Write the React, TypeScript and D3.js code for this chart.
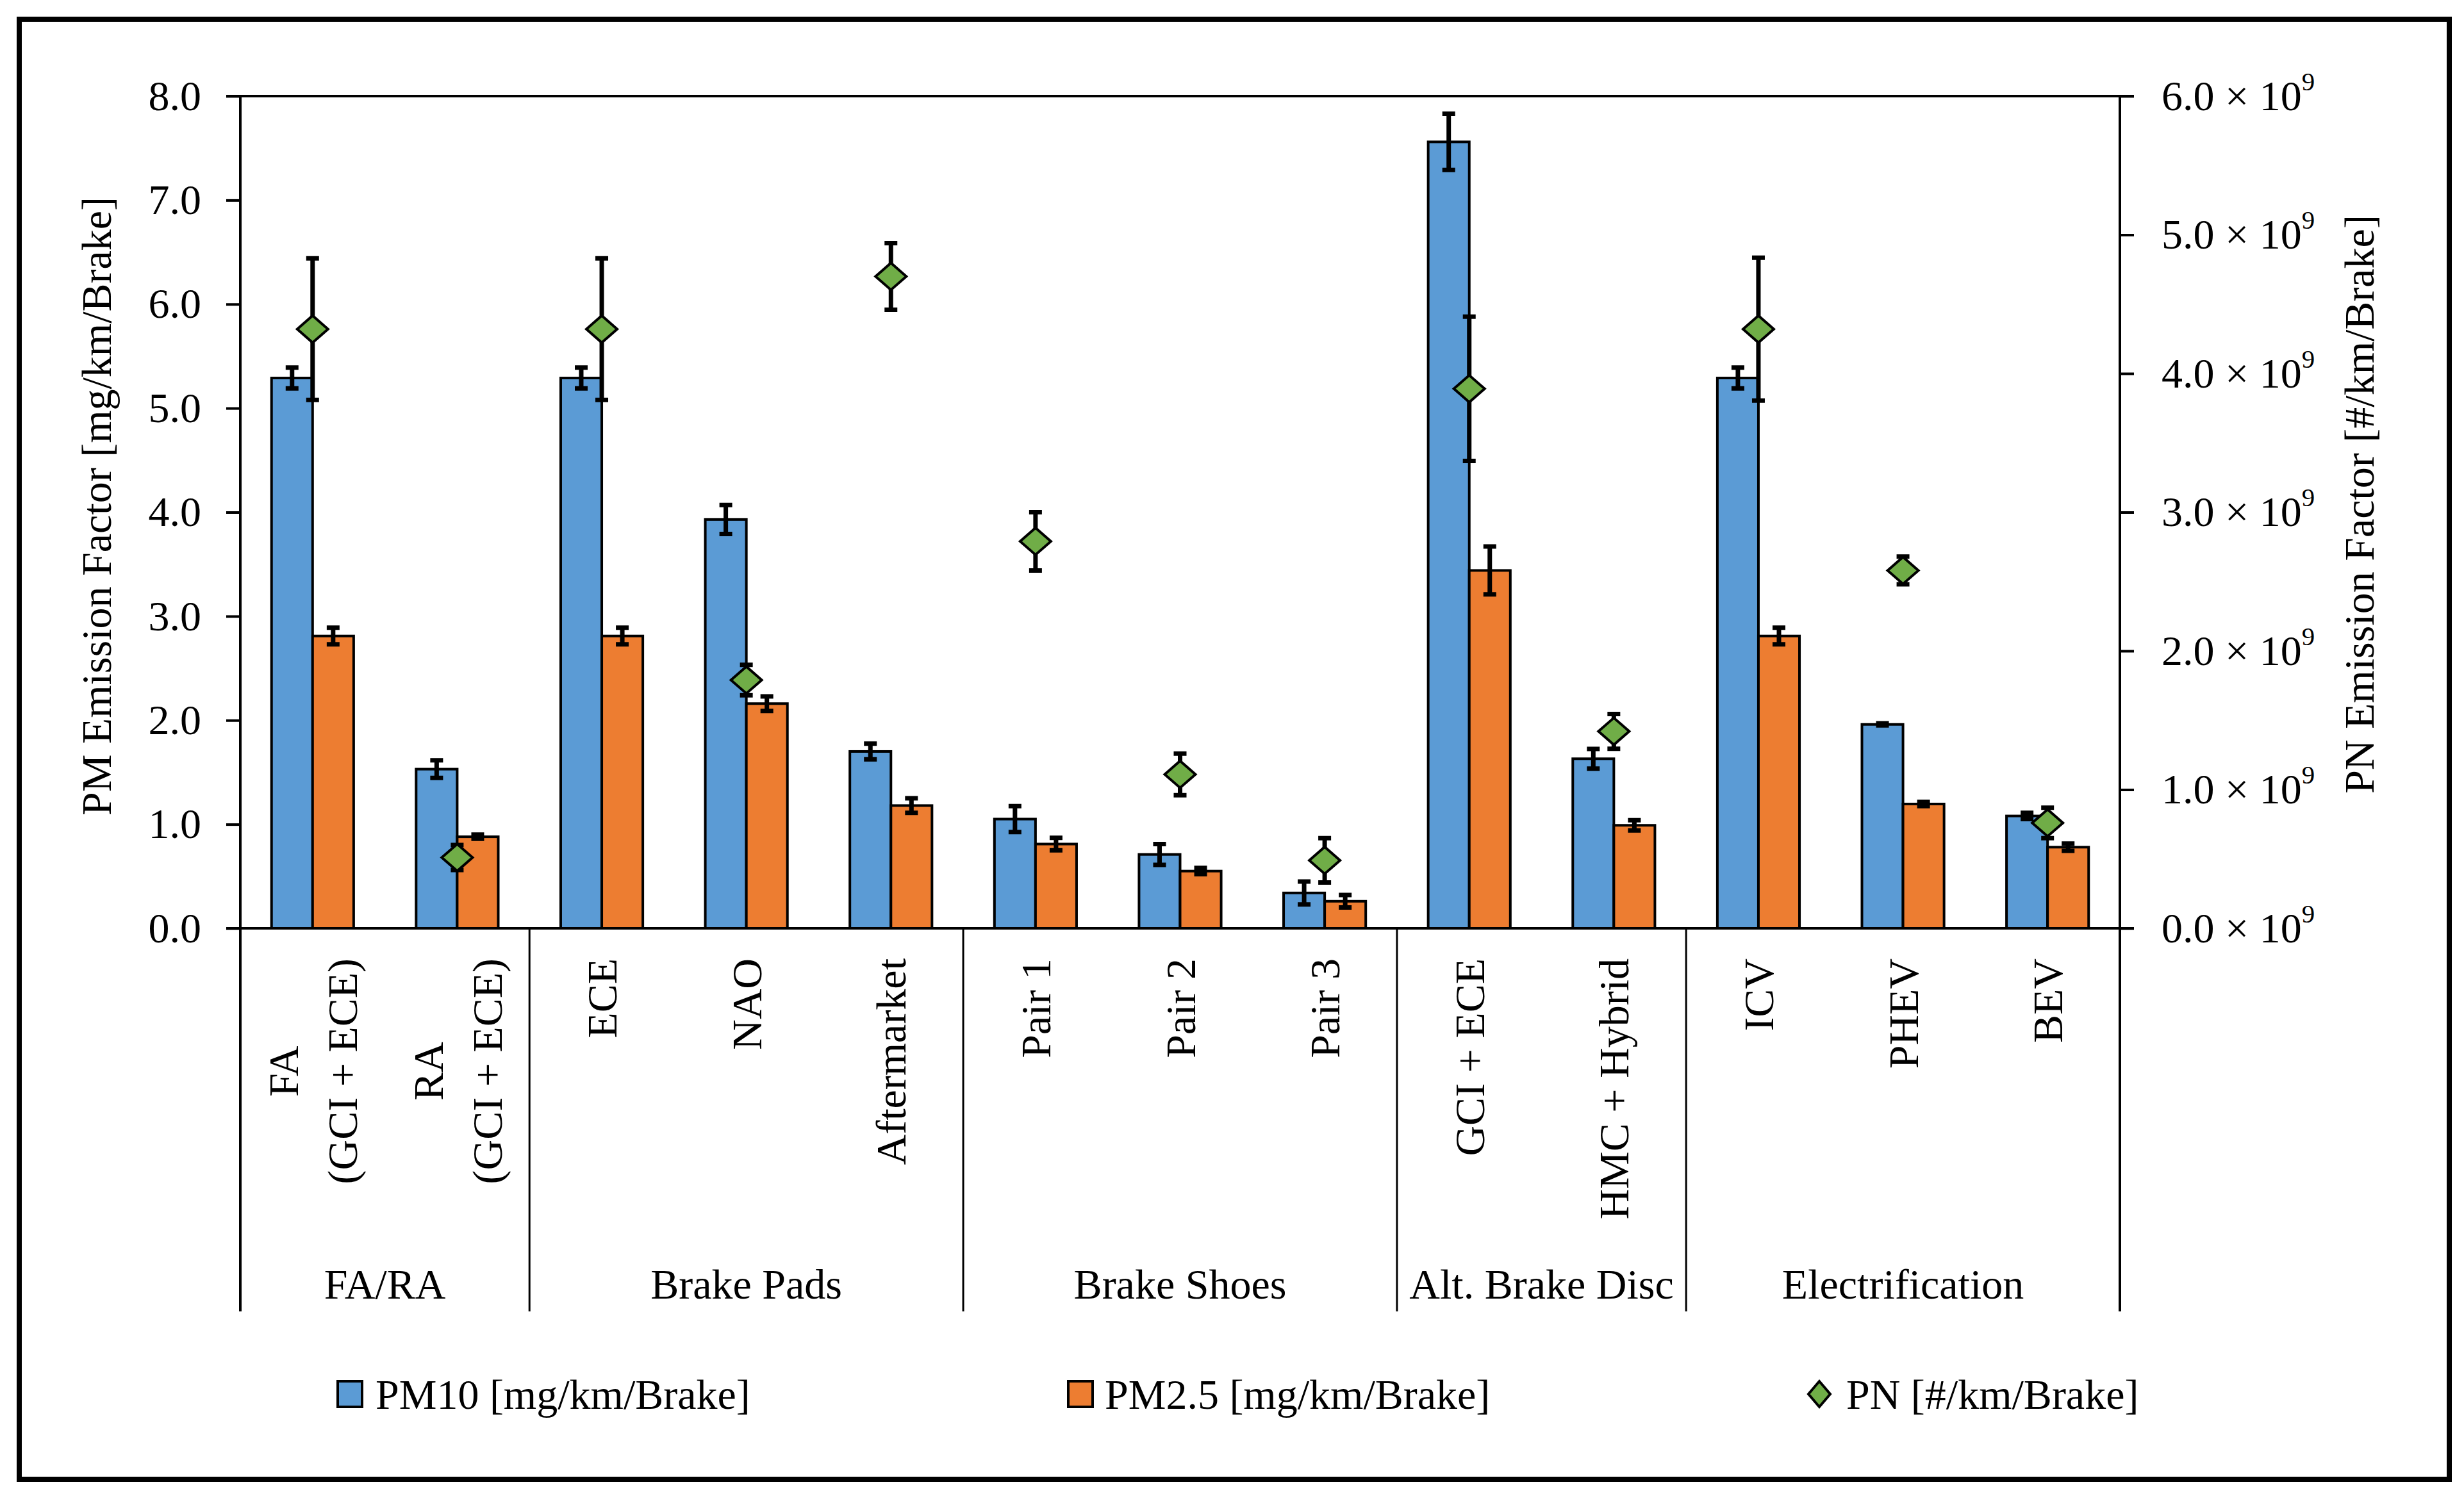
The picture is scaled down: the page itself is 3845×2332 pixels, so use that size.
import * as d3 from 'd3'
import * as React from 'react'

//------------------------------data------------------------------
const categories = [
  'FA\n(GCI + ECE)',
  'RA\n(GCI + ECE)',
  'ECE',
  'NAO',
  'Aftermarket',
  'Pair 1',
  'Pair 2',
  'Pair 3',
  'GCI + ECE',
  'HMC + Hybrid',
  'ICV',
  'PHEV',
  'BEV'
]
const groupNames = ['FA/RA', 'Brake Pads', 'Brake Shoes', 'Alt. Brake Disc', 'Electrification']
const groupSizes = [2, 3, 3, 2, 3]

const pm10 = [5.29, 1.53, 5.29, 3.93, 1.7, 1.05, 0.71, 0.34, 7.56, 1.63, 5.29, 1.96, 1.08]
const pm10Err = [0.1, 0.085, 0.1, 0.14, 0.075, 0.125, 0.1, 0.11, 0.27, 0.095, 0.1, 0.01, 0.03]
const pm25 = [2.81, 0.88, 2.81, 2.16, 1.18, 0.81, 0.55, 0.26, 3.44, 0.99, 2.81, 1.195, 0.78]
const pm25Err = [0.08, 0.02, 0.08, 0.07, 0.07, 0.06, 0.03, 0.06, 0.23, 0.05, 0.08, 0.02, 0.035]
// PN in units of 1e9 #/km/Brake
const pn = [4.32, 0.51, 4.32, 1.79, 4.7, 2.79, 1.11, 0.49, 3.89, 1.42, 4.32, 2.58, 0.76]
const pnErr = [0.51, 0.09, 0.51, 0.11, 0.24, 0.21, 0.15, 0.16, 0.52, 0.125, 0.515, 0.1, 0.11]

const leftTicks = [0, 1, 2, 3, 4, 5, 6, 7, 8]
const rightTicks = [0, 1, 2, 3, 4, 5, 6]

const legendLabels = ['PM10 [mg/km/Brake]', 'PM2.5 [mg/km/Brake]', 'PN [#/km/Brake]']

//------------------------------layout------------------------------
const WIDTH = 3845
const HEIGHT = 2332
const LEFT = 375
const RIGHT = 3308
const TOP = 150
const BOTTOM = 1449
const GROUP_BOTTOM = 2047
const TICK = 22
const FONT = '"Liberation Serif", "Times New Roman", serif'
const FS = 66
const BLUE = '#5B9BD5'
const ORANGE = '#ED7D31'
const GREEN = '#70AD47'

const diamond = (cx: number, cy: number, w = 24, h = 21) =>
  `M${cx - w},${cy}L${cx},${cy - h}L${cx + w},${cy}L${cx},${cy + h}Z`

//------------------------------drawChart------------------------------
const drawChart = (svgRef: React.RefObject<SVGSVGElement>) => {
  const svg = d3.select(svgRef.current)
  svg.selectAll('*').remove()
  svg.attr('width', WIDTH).attr('height', HEIGHT)
  svg.append('rect').attr('width', WIDTH).attr('height', HEIGHT).attr('fill', '#fff')

  // outer frame
  svg
    .append('rect')
    .attr('x', 30)
    .attr('y', 30)
    .attr('width', 3792)
    .attr('height', 2279)
    .attr('fill', 'none')
    .attr('stroke', '#000')
    .attr('stroke-width', 8)

  const idx = categories.map((_, i) => i)
  const x = d3.scaleBand<number>().domain(idx).range([LEFT, RIGHT]).padding(0)
  const yL = d3.scaleLinear().domain([0, 8]).range([BOTTOM, TOP])
  const yR = d3.scaleLinear().domain([0, 6]).range([BOTTOM, TOP])
  const barW = x.bandwidth() * 0.284
  const cx = (i: number) => (x(i) as number) + x.bandwidth() / 2

  // left axis
  const gl = svg
    .append('g')
    .attr('transform', `translate(${LEFT},0)`)
    .call(
      d3
        .axisLeft(yL)
        .tickValues(leftTicks)
        .tickFormat(d3.format('.1f'))
        .tickSizeInner(TICK)
        .tickSizeOuter(0)
        .tickPadding(39)
    )
  gl.select('.domain').remove()
  gl.selectAll('line').attr('stroke', '#000').attr('stroke-width', 4)
  gl.selectAll('text').attr('font-family', FONT).attr('font-size', FS).attr('fill', '#000')

  // right axis
  const gr = svg
    .append('g')
    .attr('transform', `translate(${RIGHT},0)`)
    .call(
      d3
        .axisRight(yR)
        .tickValues(rightTicks)
        .tickSizeInner(TICK)
        .tickSizeOuter(0)
        .tickPadding(43)
    )
  gr.select('.domain').remove()
  gr.selectAll('line').attr('stroke', '#000').attr('stroke-width', 4)
  gr.selectAll<SVGTextElement, number>('text')
    .attr('font-family', FONT)
    .attr('font-size', FS)
    .attr('fill', '#000')
    .text(null)
    .each(function (d) {
      const t = d3.select(this)
      t.append('tspan').text(`${d3.format('.1f')(d)} × 10`)
      t.append('tspan').attr('font-size', FS * 0.62).attr('dy', '-0.75em').text('9')
    })

  // frame lines
  const lines = svg.append('g').attr('stroke', '#000')
  lines.append('line').attr('x1', LEFT - TICK).attr('x2', RIGHT + TICK).attr('y1', yL(8)).attr('y2', yL(8)).attr('stroke-width', 4)
  lines.append('line').attr('x1', LEFT - TICK).attr('x2', RIGHT + TICK).attr('y1', yL(0)).attr('y2', yL(0)).attr('stroke-width', 4)
  lines.append('line').attr('x1', LEFT).attr('x2', LEFT).attr('y1', TOP).attr('y2', GROUP_BOTTOM).attr('stroke-width', 4)
  lines.append('line').attr('x1', RIGHT).attr('x2', RIGHT).attr('y1', TOP).attr('y2', GROUP_BOTTOM).attr('stroke-width', 4)

  // group dividers and labels
  let start = 0
  groupSizes.forEach((n, gi) => {
    const x0 = x(start) as number
    const x1 = (x(start + n - 1) as number) + x.bandwidth()
    if (gi > 0) {
      lines.append('line').attr('x1', x0).attr('x2', x0).attr('y1', BOTTOM).attr('y2', GROUP_BOTTOM).attr('stroke-width', 3)
    }
    svg
      .append('text')
      .attr('x', (x0 + x1) / 2)
      .attr('y', 2027)
      .attr('text-anchor', 'middle')
      .attr('font-family', FONT)
      .attr('font-size', FS)
      .text(groupNames[gi])
    start += n
  })

  // category labels (rotated, multi-line centred on each other)
  categories.forEach((c, i) => {
    const parts = c.split('\n')
    const g = svg.append('g').attr('transform', `translate(${cx(i)},1496) rotate(-90)`)
    const texts = parts.map((p, k) =>
      g
        .append('text')
        .attr('y', (k - (parts.length - 1) / 2) * 92)
        .attr('dy', '0.35em')
        .attr('text-anchor', 'middle')
        .attr('font-family', FONT)
        .attr('font-size', FS)
        .text(p)
    )
    const maxLen = d3.max(texts, t => (t.node() as SVGTextElement).getComputedTextLength()) || 0
    texts.forEach(t => t.attr('x', -maxLen / 2))
  })

  // bars
  const bars = svg.append('g').attr('stroke', '#000').attr('stroke-width', 4)
  bars
    .selectAll('rect.pm10')
    .data(pm10)
    .join('rect')
    .attr('x', (_, i) => cx(i) - barW)
    .attr('y', d => yL(d))
    .attr('width', barW)
    .attr('height', d => yL(0) - yL(d))
    .attr('fill', BLUE)
  bars
    .selectAll('rect.pm25')
    .data(pm25)
    .join('rect')
    .attr('x', (_, i) => cx(i))
    .attr('y', d => yL(d))
    .attr('width', barW)
    .attr('height', d => yL(0) - yL(d))
    .attr('fill', ORANGE)

  // error bars
  const errG = svg.append('g').attr('stroke', '#000').attr('stroke-width', 7).attr('fill', 'none')
  const drawErr = (px: number, lo: number, hi: number) => {
    const cap = 10
    errG.append('path').attr('d', `M${px},${lo}V${hi}M${px - cap},${lo}H${px + cap}M${px - cap},${hi}H${px + cap}`)
  }
  pm10.forEach((v, i) => drawErr(cx(i) - barW / 2, yL(v - pm10Err[i]), yL(v + pm10Err[i])))
  pm25.forEach((v, i) => drawErr(cx(i) + barW / 2, yL(v - pm25Err[i]), yL(v + pm25Err[i])))
  pn.forEach((v, i) => drawErr(cx(i), yR(v - pnErr[i]), yR(v + pnErr[i])))

  // PN markers
  svg
    .append('g')
    .selectAll('path')
    .data(pn)
    .join('path')
    .attr('d', (d, i) => diamond(cx(i), yR(d)))
    .attr('fill', GREEN)
    .attr('stroke', '#000')
    .attr('stroke-width', 4)
    .attr('stroke-linejoin', 'miter')

  // axis titles
  svg
    .append('text')
    .attr('transform', `translate(150,790) rotate(-90)`)
    .attr('dy', '0.35em')
    .attr('text-anchor', 'middle')
    .attr('font-family', FONT)
    .attr('font-size', FS)
    .text('PM Emission Factor [mg/km/Brake]')
  svg
    .append('text')
    .attr('transform', `translate(3681,787) rotate(-90)`)
    .attr('dy', '0.35em')
    .attr('text-anchor', 'middle')
    .attr('font-family', FONT)
    .attr('font-size', FS)
    .text('PN Emission Factor [#/km/Brake]')

  // legend
  const leg = svg.append('g').attr('font-family', FONT).attr('font-size', FS)
  const legY = 2176
  const legSwatch = [527, 1667]
  ;[BLUE, ORANGE].forEach((c, i) => {
    leg
      .append('rect')
      .attr('x', legSwatch[i])
      .attr('y', legY - 20)
      .attr('width', 38)
      .attr('height', 40)
      .attr('fill', c)
      .attr('stroke', '#000')
      .attr('stroke-width', 4)
  })
  leg.append('path').attr('d', diamond(2839, legY, 17, 20)).attr('fill', GREEN).attr('stroke', '#000').attr('stroke-width', 4)
  const legTextX = [586, 1724, 2881]
  legendLabels.forEach((l, i) => {
    leg.append('text').attr('x', legTextX[i]).attr('y', legY + 23).text(l)
  })
}

//------------------------------Component------------------------------
const App: React.FunctionComponent = () => {
  const chartSvg = React.useRef<SVGSVGElement>(null)

  React.useEffect(() => {
    drawChart(chartSvg)
  }, [])

  return (
    <svg
      ref={chartSvg}
      style={{ position: 'absolute', left: 0, top: 0, display: 'block' }}
      width={WIDTH}
      height={HEIGHT}
    />
  )
}

export default App
